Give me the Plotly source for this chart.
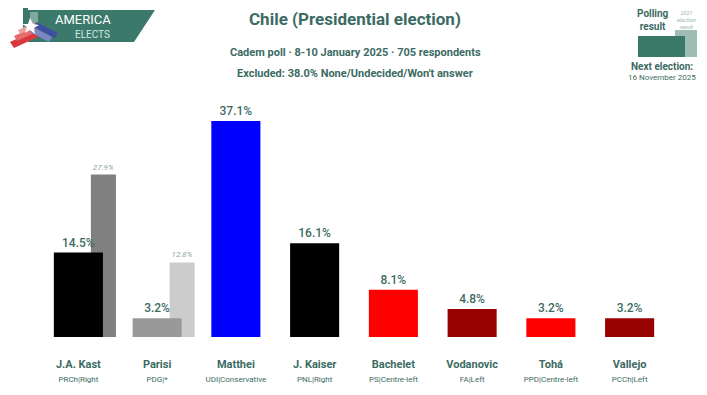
import plotly.graph_objects as go

# ---- data ----
candidates = ["J.A. Kast", "Parisi", "Matthei", "J. Kaiser", "Bachelet", "Vodanovic", "Tohá", "Vallejo"]
parties = ["PRCh|Right", "PDG|*", "UDI|Conservative", "PNL|Right", "PS|Centre-left", "FA|Left", "PPD|Centre-left", "PCCh|Left"]
poll_values = [14.5, 3.2, 37.1, 16.1, 8.1, 4.8, 3.2, 3.2]
poll_colors = ["#000000", "#999999", "#0000FF", "#000000", "#FF0000", "#990000", "#FF0000", "#990000"]
prev_index = [0, 1]
prev_values = [27.9, 12.8]
prev_colors = ["#808080", "#CCCCCC"]

FONT = "Roboto, sans-serif"
TXT = "#3C6B63"
W, H = 707, 395
O = 8  # page offset of the figure inside the window
# target plot area in window pixels: x 39..669, y 75..337
L = 39 - O
R = W - (669 - O)
T = 75 - O
B = H - (337 - O)

def px(x):
    return (x - 39) / (669 - 39)

def py(y):
    return (337 - y) / (337 - 75)

x_pos = list(range(len(candidates)))

fig = go.Figure()
# previous election result bars (behind, offset right)
fig.add_trace(go.Bar(
    x=[i + 0.318 for i in prev_index], y=prev_values, width=0.318,
    marker=dict(color=prev_colors, line=dict(width=0)),
    text=[f"{v:.1f}%" for v in prev_values], textposition="outside",
    textfont=dict(family=FONT, size=8, color="#8FA8A3", style="italic"),
    cliponaxis=False, hoverinfo="skip", showlegend=False,
))
# polling bars
fig.add_trace(go.Bar(
    x=x_pos, y=poll_values, width=0.623,
    marker=dict(color=poll_colors, line=dict(width=0)),
    text=[f"{v:.1f}%" for v in poll_values], textposition="outside",
    textfont=dict(family=FONT, size=12, color=TXT, weight=500),
    cliponaxis=False, hoverinfo="skip", showlegend=False,
))

ticktext = [f"<b>{c}</b><br><span style='font-size:8px'>{p}</span>" for c, p in zip(candidates, parties)]

fig.update_layout(
    width=W, height=H,
    margin=dict(l=L, r=R, t=T, b=B, pad=0, autoexpand=False),
    paper_bgcolor="white", plot_bgcolor="white",
    barmode="overlay",
    font=dict(family=FONT, color=TXT),
    xaxis=dict(range=[-0.5, 7.5], tickvals=x_pos, ticktext=ticktext,
               tickfont=dict(family=FONT, size=11, color=TXT), automargin=False,
               showgrid=False, zeroline=False, showline=False, ticks="", ticklabelstandoff=19),
    yaxis=dict(range=[0, 45], visible=False, fixedrange=True),
)

ann = []
def A(x, y, text, size, color=TXT, **kw):
    ann.append(dict(x=px(x), y=py(y), xref="paper", yref="paper", text=text, showarrow=False,
                    xanchor="center", yanchor="middle",
                    font=dict(family=FONT, size=size, color=color), **kw))

A(355, 19, "<b>Chile (Presidential election)</b>", 17)
A(355, 52, "<b>Cadem poll · 8-10 January 2025 · 705 respondents</b>", 11)
A(355, 73, "<b>Excluded: 38.0% None/Undecided/Won't answer</b>", 11)
# logo text
A(83, 19, "AMERICA", 13, "white")
A(92, 34, "ELECTS", 10, "#D5E6E1")
# legend
A(653, 20, "<b>Polling</b><br><b>result</b>", 10)
A(687, 20, "<i>2021<br>election<br>result</i>", 5.5, "#9AB5AF")
A(662, 66, "<b>Next election:</b>", 10)
A(662, 78, "16 November 2025", 8, TXT)
A(701, 42, "© 2025 @AmericaElige", 6, "#6F8B86", textangle=-90)
fig.update_layout(annotations=ann)

shapes = []
def poly(pts, color, opacity=1):
    path = "M " + " L ".join(f"{px(x)},{py(y)}" for x, y in pts) + " Z"
    shapes.append(dict(type="path", path=path, xref="paper", yref="paper",
                       fillcolor=color, line=dict(width=0), opacity=opacity, layer="below"))

# logo
poly([(23, 8), (28, 8), (28, 30), (23, 30)], "#3B7A6B")
poly([(28, 10), (155, 10), (134, 42), (28, 42)], "#3B7A6B")
poly([(30, 12), (38, 12), (38, 30), (30, 30)], "#7FA89E")
poly([(10, 42), (36, 30), (40, 36), (14, 48)], "#D9363E")
poly([(14, 36), (36, 26), (39, 31), (17, 41)], "#E46A6E")
poly([(18, 30), (36, 22), (38, 26), (20, 34)], "#F0A0A0")
poly([(36, 22), (58, 33), (55, 38), (33, 27)], "#3E4FA0")
poly([(33, 27), (52, 37), (49, 42), (30, 32)], "#7B86C3")
poly([(30, 18), (33, 24), (39, 25), (34, 28), (35, 34), (30, 30), (25, 33), (27, 27), (22, 24), (28, 24)], "white")
# legend boxes
poly([(675, 30), (697, 30), (697, 57), (675, 57)], "#9DBDB5")
poly([(638, 36), (685, 36), (685, 57), (638, 57)], "#3A7868")
fig.update_layout(shapes=shapes)

fig.write_html("out.html")
